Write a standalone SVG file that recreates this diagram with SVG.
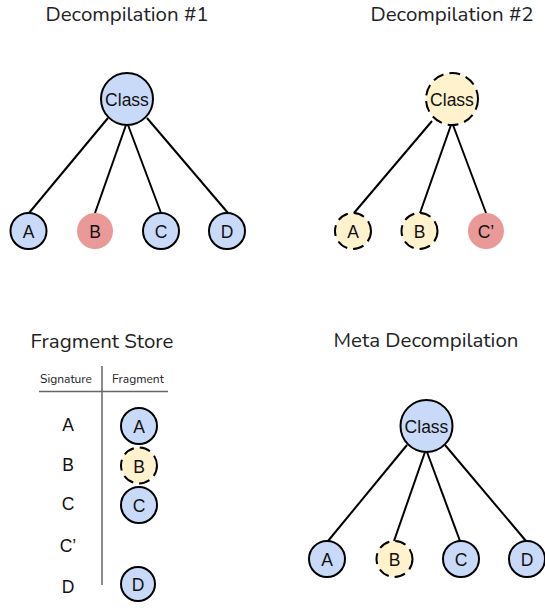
<svg xmlns="http://www.w3.org/2000/svg" width="545" height="610" viewBox="0 0 545 610">
<style>
.title{font-family:"Nunito","Open Sans","Liberation Sans",sans-serif;font-size:20.5px;fill:#222;text-anchor:middle}
.hdr{font-family:"Nunito","Open Sans","Liberation Sans",sans-serif;font-size:12px;fill:#222;text-anchor:middle}
.lbl{font-family:"Liberation Sans",Arial,sans-serif;font-size:17.5px;fill:#111;text-anchor:middle;dominant-baseline:central}
.blue{fill:#c9daf8;stroke:#000;stroke-width:2}
.red{fill:#ea9999;stroke:none}
.yel{fill:#fff2cc;stroke:#000;stroke-width:2;stroke-dasharray:11 6}
.edge{stroke:#000;stroke-width:2;fill:none}
.rule{stroke:#666;stroke-width:1.5}
</style>
<rect width="545" height="610" fill="#fff"/>
<text class="title" x="127" y="21">Decompilation #1</text>
<text class="title" x="452" y="21">Decompilation #2</text>
<text class="title" x="102" y="348">Fragment Store</text>
<text class="title" x="426" y="347">Meta Decompilation</text>
<g id="connectors">
<line class="edge" x1="108" y1="118" x2="29" y2="213"/>
<line class="edge" x1="126" y1="125" x2="95" y2="213"/>
<line class="edge" x1="128" y1="125" x2="161" y2="213"/>
<line class="edge" x1="147" y1="118" x2="228" y2="213"/>
<line class="edge" x1="432" y1="121" x2="354" y2="213"/>
<line class="edge" x1="451" y1="125" x2="420" y2="213"/>
<line class="edge" x1="453" y1="125" x2="486" y2="213"/>
<line class="edge" x1="407" y1="445" x2="328" y2="541"/>
<line class="edge" x1="425" y1="452" x2="394" y2="541"/>
<line class="edge" x1="427" y1="452" x2="460" y2="541"/>
<line class="edge" x1="445" y1="445" x2="526" y2="541"/>
</g>
<g id="d1-class"><circle class="blue" cx="127" cy="99" r="26"/><text class="lbl" x="127" y="100">Class</text></g>
<g id="d1-a"><circle class="blue" cx="28.5" cy="231" r="18"/><text class="lbl" x="28.5" y="232">A</text></g>
<g id="d1-b"><circle class="red" cx="95" cy="231" r="18"/><text class="lbl" x="95" y="232">B</text></g>
<g id="d1-c"><circle class="blue" cx="161" cy="231" r="18"/><text class="lbl" x="161" y="232">C</text></g>
<g id="d1-d"><circle class="blue" cx="227" cy="231" r="18"/><text class="lbl" x="227" y="232">D</text></g>
<g id="d2-class"><circle class="yel" cx="452" cy="99" r="26"/><text class="lbl" x="452" y="100">Class</text></g>
<g id="d2-a"><circle class="yel" cx="353" cy="231" r="18"/><text class="lbl" x="353" y="232">A</text></g>
<g id="d2-b"><circle class="yel" cx="419.5" cy="231" r="18"/><text class="lbl" x="419.5" y="232">B</text></g>
<g id="d2-c"><circle class="red" cx="486" cy="231" r="18"/><text class="lbl" x="486" y="232">C’</text></g>
<g id="store">
<text class="hdr" x="66" y="383">Signature</text>
<text class="hdr" x="138" y="383">Fragment</text>
<line class="rule" x1="39" y1="391.5" x2="168" y2="391.5"/>
<line class="rule" x1="102" y1="366" x2="102" y2="585"/>
<text class="lbl" x="68" y="425">A</text>
<text class="lbl" x="68" y="465">B</text>
<text class="lbl" x="68" y="504">C</text>
<text class="lbl" x="68" y="546">C’</text>
<text class="lbl" x="68" y="587">D</text>
</g>
<g id="fs-a"><circle class="blue" cx="139" cy="426" r="18"/><text class="lbl" x="139" y="427">A</text></g>
<g id="fs-b"><circle class="yel" cx="139" cy="465.5" r="18"/><text class="lbl" x="139" y="466.5">B</text></g>
<g id="fs-c"><circle class="blue" cx="139" cy="505" r="18"/><text class="lbl" x="139" y="506">C</text></g>
<g id="fs-d"><circle class="blue" cx="138" cy="584" r="17"/><text class="lbl" x="138" y="585">D</text></g>
<g id="m-class"><circle class="blue" cx="426.5" cy="426" r="26"/><text class="lbl" x="426.5" y="427">Class</text></g>
<g id="m-a"><circle class="blue" cx="327" cy="559" r="18"/><text class="lbl" x="327" y="560">A</text></g>
<g id="m-b"><circle class="yel" cx="394.5" cy="559" r="18"/><text class="lbl" x="394.5" y="560">B</text></g>
<g id="m-c"><circle class="blue" cx="461" cy="559" r="18"/><text class="lbl" x="461" y="560">C</text></g>
<g id="m-d"><circle class="blue" cx="527" cy="559" r="18"/><text class="lbl" x="527" y="560">D</text></g>
</svg>
